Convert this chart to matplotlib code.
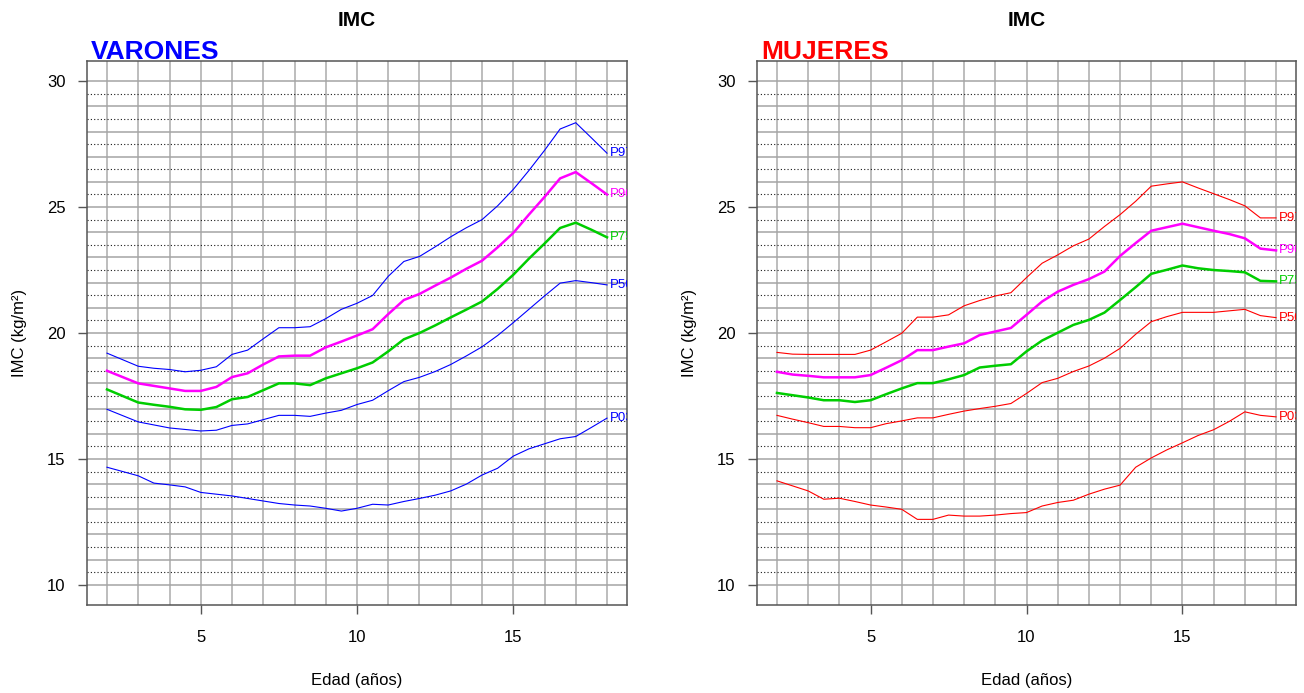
import matplotlib
matplotlib.use('Agg')
import matplotlib.pyplot as plt

plt.rcParams['font.family'] = ['Liberation Sans', 'DejaVu Sans']

# edades (años), cada medio año
edades = [2, 2.5, 3, 3.5, 4, 4.5, 5, 5.5, 6, 6.5, 7, 7.5, 8, 8.5, 9, 9.5, 10,
          10.5, 11, 11.5, 12, 12.5, 13, 13.5, 14, 14.5, 15, 15.5, 16, 16.5,
          17, 17.5, 18]
percentiles = ['P97', 'P90', 'P75', 'P50', 'P03']

# IMC varones
varones_p97 = [19.20, 18.94, 18.68, 18.60, 18.55, 18.46, 18.52, 18.66, 19.15,
               19.32, 19.77, 20.21, 20.21, 20.25, 20.57, 20.94, 21.18, 21.49,
               22.25, 22.84, 23.04, 23.42, 23.82, 24.18, 24.50, 25.05, 25.70,
               26.45, 27.25, 28.10, 28.35, 27.75, 27.14]
varones_p90 = [18.50, 18.25, 18.00, 17.90, 17.80, 17.70, 17.70, 17.86, 18.25,
               18.40, 18.75, 19.07, 19.10, 19.10, 19.43, 19.66, 19.90, 20.15,
               20.75, 21.31, 21.55, 21.88, 22.20, 22.55, 22.87, 23.40, 23.97,
               24.70, 25.40, 26.14, 26.39, 25.95, 25.50]
varones_p75 = [17.76, 17.50, 17.24, 17.15, 17.07, 16.97, 16.95, 17.06, 17.37,
               17.46, 17.73, 18.00, 18.00, 17.93, 18.20, 18.40, 18.60, 18.83,
               19.27, 19.75, 20.00, 20.30, 20.62, 20.93, 21.25, 21.75, 22.31,
               22.95, 23.55, 24.17, 24.38, 24.10, 23.80]
varones_p50 = [16.97, 16.72, 16.47, 16.35, 16.23, 16.17, 16.11, 16.14, 16.33,
               16.39, 16.56, 16.73, 16.73, 16.69, 16.82, 16.93, 17.16, 17.33,
               17.71, 18.07, 18.24, 18.47, 18.75, 19.09, 19.45, 19.90, 20.41,
               20.94, 21.47, 21.98, 22.08, 22.00, 21.91]
varones_p03 = [14.67, 14.50, 14.33, 14.04, 13.97, 13.89, 13.67, 13.60, 13.53,
               13.43, 13.33, 13.23, 13.17, 13.13, 13.04, 12.93, 13.04, 13.20,
               13.17, 13.31, 13.43, 13.56, 13.73, 14.00, 14.36, 14.63, 15.11,
               15.40, 15.60, 15.80, 15.89, 16.25, 16.62]

# IMC mujeres
mujeres_p97 = [19.23, 19.16, 19.15, 19.15, 19.15, 19.15, 19.32, 19.65, 19.99,
               20.63, 20.63, 20.72, 21.08, 21.29, 21.47, 21.60, 22.20, 22.77,
               23.10, 23.46, 23.73, 24.23, 24.70, 25.23, 25.83, 25.92, 26.00,
               25.76, 25.53, 25.30, 25.05, 24.57, 24.57]
mujeres_p90 = [18.46, 18.35, 18.30, 18.24, 18.24, 18.24, 18.33, 18.62, 18.92,
               19.32, 19.32, 19.46, 19.59, 19.92, 20.06, 20.20, 20.72, 21.25,
               21.64, 21.91, 22.14, 22.44, 23.06, 23.57, 24.06, 24.20, 24.34,
               24.20, 24.06, 23.93, 23.76, 23.35, 23.28]
mujeres_p75 = [17.62, 17.53, 17.44, 17.33, 17.33, 17.26, 17.33, 17.57, 17.80,
               18.01, 18.01, 18.16, 18.33, 18.63, 18.70, 18.76, 19.27, 19.70,
               20.01, 20.32, 20.52, 20.81, 21.31, 21.82, 22.35, 22.51, 22.68,
               22.57, 22.50, 22.46, 22.41, 22.07, 22.05]
mujeres_p50 = [16.73, 16.58, 16.44, 16.29, 16.29, 16.24, 16.24, 16.40, 16.51,
               16.63, 16.63, 16.77, 16.90, 17.00, 17.09, 17.20, 17.60, 18.03,
               18.20, 18.47, 18.69, 19.00, 19.39, 19.95, 20.45, 20.65, 20.82,
               20.82, 20.82, 20.88, 20.94, 20.69, 20.61]
mujeres_p03 = [14.13, 13.93, 13.73, 13.40, 13.44, 13.31, 13.17, 13.09, 13.00,
               12.60, 12.60, 12.77, 12.73, 12.73, 12.77, 12.83, 12.87, 13.13,
               13.27, 13.36, 13.60, 13.80, 13.96, 14.67, 15.04, 15.36, 15.64,
               15.93, 16.16, 16.49, 16.87, 16.73, 16.67]


def panel(ax, curvas, color, titulo):
    # cuadricula: lineas solidas cada año / cada unidad, punteadas en las medias
    for x in range(2, 19):
        ax.axvline(x, color='#ababab', lw=1.1, zorder=1)
    for y in range(10, 31):
        ax.axhline(y, color='#a4a4a4', lw=1.1, zorder=1)
        if y < 30:
            ax.axhline(y + 0.5, color='#1a1a1a', lw=0.8, ls=(0, (1, 2)), zorder=1)

    colores = [color, '#ff00ff', '#00cd00', color, color]
    grosor = [0.8, 1.8, 1.8, 0.8, 0.8]
    for nombre, valores, c, lw in zip(percentiles, curvas, colores, grosor):
        ax.plot(edades, valores, color=c, lw=lw, zorder=3)
        ax.text(edades[-1] + 0.1, valores[-1], nombre, color=c, fontsize=9.5,
                ha='left', va='center', clip_on=True, zorder=4)

    ax.set_xlim(1.36, 18.64)
    ax.set_ylim(9.2, 30.8)
    ax.set_xticks([5, 10, 15])
    ax.set_yticks([10, 15, 20, 25, 30])
    ax.tick_params(axis='both', length=6.8, width=1, color='#555555', labelsize=12)
    ax.tick_params(axis='x', pad=11)
    ax.tick_params(axis='y', pad=8.5)
    for s in ax.spines.values():
        s.set_color('#555555')
        s.set_linewidth(1.1)

    ax.set_title('IMC', fontsize=15, fontweight='bold', pad=25)
    ax.text(0.0075, 1.004, titulo, transform=ax.transAxes, color=color,
            fontsize=19, fontweight='bold', ha='left', va='baseline')
    ax.set_xlabel('Edad (años)', fontsize=12)
    ax.set_ylabel('IMC (kg/m²)', fontsize=12)
    ax.xaxis.set_label_coords(0.5, -0.125)
    ax.yaxis.set_label_coords(-0.111, 0.5)


fig = plt.figure(figsize=(13.04, 6.93), dpi=100)
ax1 = fig.add_axes([87 / 1304, 88 / 693, 540 / 1304, 544 / 693])
ax2 = fig.add_axes([757 / 1304, 88 / 693, 539 / 1304, 544 / 693])

panel(ax1, [varones_p97, varones_p90, varones_p75, varones_p50, varones_p03],
      '#0000ff', 'VARONES')
panel(ax2, [mujeres_p97, mujeres_p90, mujeres_p75, mujeres_p50, mujeres_p03],
      '#ff0000', 'MUJERES')

fig.savefig('out.png', dpi=100)
